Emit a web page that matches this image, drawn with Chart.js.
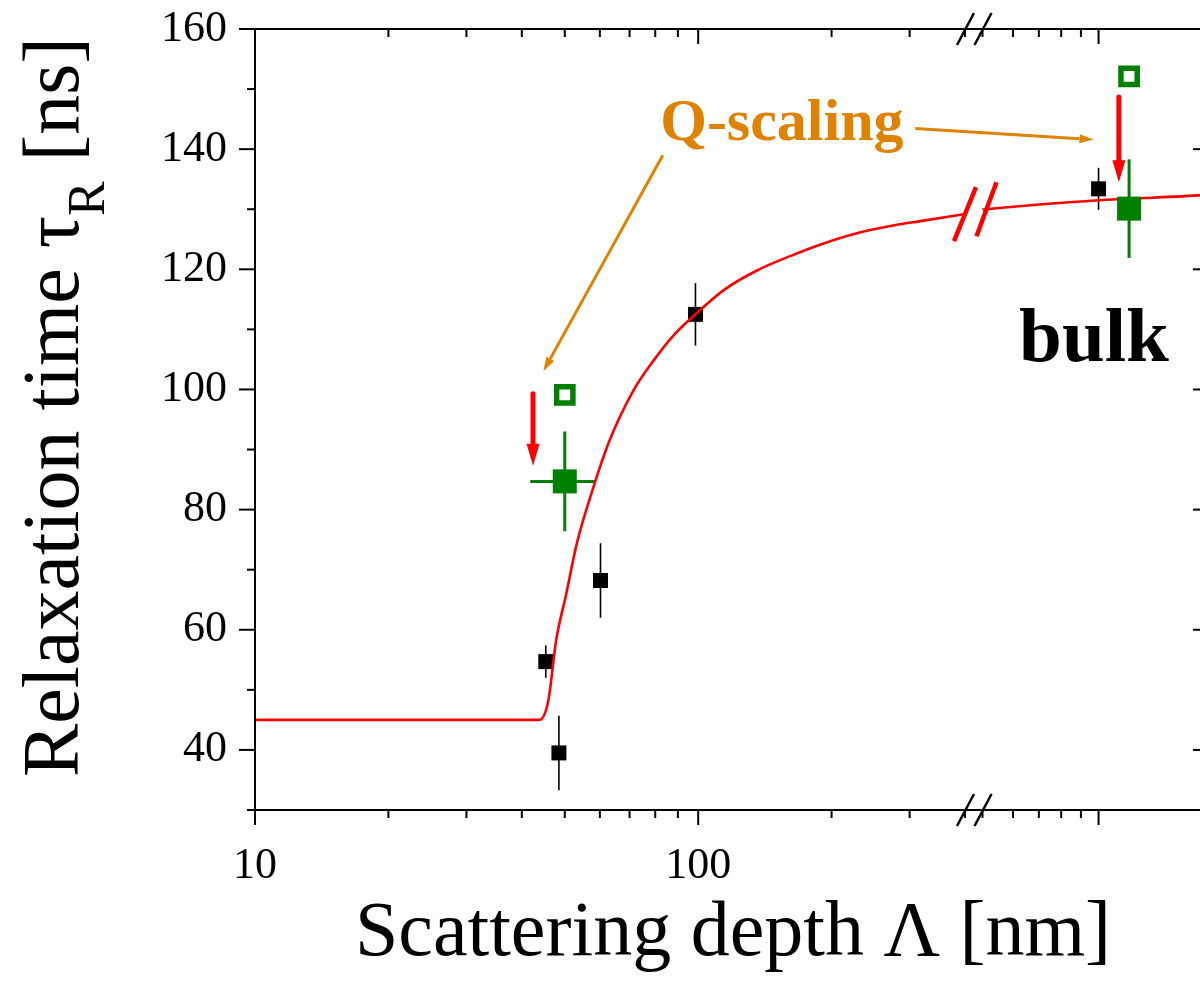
<!DOCTYPE html>
<html>
<head>
<meta charset="utf-8">
<script src="https://cdn.jsdelivr.net/npm/chart.js@4.4.0/dist/chart.umd.min.js"></script>
<style>
  html, body { margin: 0; padding: 0; overflow: hidden; background: #fff; }
  canvas { display: block; }
</style>
</head>
<body>
<canvas id="myChart" width="1210" height="983"></canvas>
<script>
// fit curve, before and after the axis break
const fitX = [10, 43.8, 45.9, 47.8, 50.4, 53.2, 58.0, 63.1, 71.4, 79.3, 88.0, 98.9, 114, 135.7, 161.3, 191.8, 228.1, 271.3, 322.6, 400];
const fitY = [45, 45, 48.2, 58.2, 66.0, 74.3, 83.7, 91.5, 99.8, 104.8, 109.0, 112.6, 116.5, 119.8, 122.2, 124.3, 126.0, 127.2, 128.1, 129.2];
const fitBulkX = [500, 676, 1000, 1810, 1934];
const fitBulkY = [129.95, 130.7, 131.5, 132.3, 132.45];

// measured points (black) with y errors
const blackX = [45.3, 48.5, 60.2, 98.6, 1000];
const blackY = [54.7, 39.5, 68.2, 112.5, 133.4];
const blackErr = [2.7, 6.2, 6.2, 5.2, 3.5];

// Q-scaled points (green filled) and unscaled ones (green open)
const greenX = [50, 1200];
const greenY = [84.7, 130.1];
const greenYErr = [8.3, 8.2];
const greenXLow = [41.8, 1200];
const greenXHigh = [58.5, 1200];
const openX = [50, 1200];
const openY = [99.1, 152.1];

// red shift arrows: x, from y, to y
const shiftX = [42.4, 1129];
const shiftFrom = [99.3, 148.7];
const shiftTo = [87.3, 134.5];

// ticks
const xTicks = [10, 20, 30, 40, 50, 60, 70, 80, 90, 100, 200, 300, 400, 500, 600, 700, 800, 900, 1000];
const xMajor = [10, 100, 1000];
const xLabeled = [10, 100];
const yTicks = [30, 40, 50, 60, 70, 80, 90, 100, 110, 120, 130, 140, 150, 160];
const yLabeled = [40, 60, 80, 100, 120, 140, 160];

const FONT = '"Liberation Serif", "Times New Roman", serif';
const ORANGE = '#de8200';
const GREEN = '#008000';

function pts(xs, ys) { return xs.map((x, i) => ({ x: x, y: ys[i] })); }

// log axis with a break (Origin style)
class BrokenLogScale extends Chart.LogarithmicScale {
    buildTicks() {
        this.min = this.options.min;
        this.max = this.options.max;
        this._startValue = this.min;
        this._endValue = this.max;
        return this.options.tickValues.map(v => ({ value: v, major: xMajor.includes(v) }));
    }
    _dec(value) {
        const b = this.options.brk;
        const lmin = Math.log10(this.min), lmax = Math.log10(this.max);
        const lf = Math.log10(b.from), lt = Math.log10(b.to);
        const lv = Math.log10(value);
        if (lv <= lf) return (lv - lmin) / (lf - lmin) * b.at;
        if (lv >= lt) return b.at + b.gap + (lv - lt) / (lmax - lt) * (1 - b.at - b.gap);
        return b.at + (lv - lf) / (lt - lf) * b.gap;
    }
    getPixelForValue(value) {
        if (value === undefined || value <= 0) return NaN;
        return this.getPixelForDecimal(this._dec(value));
    }
    getValueForPixel(pixel) {
        const b = this.options.brk;
        const d = this.getDecimalForPixel(pixel);
        const lmin = Math.log10(this.min), lmax = Math.log10(this.max);
        const lf = Math.log10(b.from), lt = Math.log10(b.to);
        if (d <= b.at) return Math.pow(10, lmin + d / b.at * (lf - lmin));
        if (d >= b.at + b.gap) return Math.pow(10, lt + (d - b.at - b.gap) / (1 - b.at - b.gap) * (lmax - lt));
        return Math.pow(10, lf + (d - b.at) / b.gap * (lt - lf));
    }
}
BrokenLogScale.id = 'brokenLog';
BrokenLogScale.defaults = Chart.LogarithmicScale.defaults;
Chart.register(BrokenLogScale);

function line(c, x1, y1, x2, y2) {
    c.beginPath(); c.moveTo(x1, y1); c.lineTo(x2, y2); c.stroke();
}
function arrow(c, x1, y1, x2, y2, len, half) {
    const a = Math.atan2(y2 - y1, x2 - x1);
    const bx = x2 - len * Math.cos(a), by = y2 - len * Math.sin(a);
    line(c, x1, y1, bx, by);
    c.beginPath();
    c.moveTo(x2, y2);
    c.lineTo(bx + half * Math.sin(a), by - half * Math.cos(a));
    c.lineTo(bx - half * Math.sin(a), by + half * Math.cos(a));
    c.closePath();
    c.fill();
}

const decor = {
    id: 'decor',
    beforeDatasetsDraw(chart) {
        const c = chart.ctx, xs = chart.scales.x, ys = chart.scales.y;
        c.save();
        c.lineCap = 'butt';
        // black error bars
        c.strokeStyle = '#000';
        c.lineWidth = 1.6;
        blackX.forEach((x, i) => {
            const px = xs.getPixelForValue(x);
            line(c, px, ys.getPixelForValue(blackY[i] - blackErr[i]), px, ys.getPixelForValue(blackY[i] + blackErr[i]));
        });
        // green error bars
        c.strokeStyle = GREEN;
        c.lineWidth = 3;
        greenX.forEach((x, i) => {
            const px = xs.getPixelForValue(x), py = ys.getPixelForValue(greenY[i]);
            line(c, px, ys.getPixelForValue(greenY[i] - greenYErr[i]), px, ys.getPixelForValue(greenY[i] + greenYErr[i]));
            if (greenXLow[i] !== greenXHigh[i]) {
                line(c, xs.getPixelForValue(greenXLow[i]), py, xs.getPixelForValue(greenXHigh[i]), py);
            }
        });
        c.restore();
    },
    afterDatasetsDraw(chart) {
        const c = chart.ctx, xs = chart.scales.x, ys = chart.scales.y, a = chart.chartArea;
        c.save();
        c.strokeStyle = '#000';
        c.fillStyle = '#000';
        c.lineWidth = 2;
        c.lineCap = 'square';
        // frame
        line(c, a.left, a.top, a.right, a.top);
        line(c, a.left, a.bottom, a.right, a.bottom);
        line(c, a.left, a.top, a.left, a.bottom);
        line(c, a.right, a.top, a.right, a.bottom);
        c.lineCap = 'butt';
        // x ticks: out at bottom, in at top
        xTicks.forEach(v => {
            const px = xs.getPixelForValue(v);
            const len = xMajor.includes(v) ? 15 : 8;
            line(c, px, a.bottom, px, a.bottom + len);
            line(c, px, a.top, px, a.top + len);
        });
        // y ticks: out at left, in at right
        yTicks.forEach(v => {
            const py = ys.getPixelForValue(v);
            const len = yLabeled.includes(v) ? 16 : 8;
            line(c, a.left - len, py, a.left, py);
            line(c, a.right - len, py, a.right, py);
        });
        // axis break marks
        c.lineWidth = 2.5;
        const b1 = xs.getPixelForValue(400), b2 = xs.getPixelForValue(500);
        [a.top, a.bottom].forEach(yy => {
            line(c, b1 - 8, yy + 16, b1 + 9, yy - 16);
            line(c, b2 - 8, yy + 16, b2 + 9, yy - 16);
        });
        // break marks on the fit curve
        c.strokeStyle = '#ff0000';
        c.lineWidth = 4.5;
        const cy1 = ys.getPixelForValue(129.2), cy2 = ys.getPixelForValue(130);
        line(c, b1 - 11, cy1 + 27, b1 + 11, cy1 - 27);
        line(c, b2 - 6, cy2 + 27, b2 + 14, cy2 - 27);

        // red shift arrows
        c.fillStyle = '#ff0000';
        c.lineWidth = 5;
        c.lineCap = 'round';
        shiftX.forEach((x, i) => {
            const px = xs.getPixelForValue(x);
            arrow(c, px, ys.getPixelForValue(shiftFrom[i]), px, ys.getPixelForValue(shiftTo[i]), 22, 6.5);
        });

        // Q-scaling annotation
        c.fillStyle = ORANGE;
        c.strokeStyle = ORANGE;
        c.lineWidth = 3;
        c.lineCap = 'butt';
        c.font = 'bold 60px ' + FONT;
        c.textAlign = 'left';
        c.textBaseline = 'alphabetic';
        c.fillText('Q-scaling', xs.getPixelForValue(82.1), ys.getPixelForValue(141.5));
        arrow(c, xs.getPixelForValue(83.2), ys.getPixelForValue(139), xs.getPixelForValue(44.75), ys.getPixelForValue(103.05), 14, 4.5);
        arrow(c, xs.getPixelForValue(309), ys.getPixelForValue(143.45), xs.getPixelForValue(970), ys.getPixelForValue(141.6), 14, 4.5);

        // bulk label
        c.fillStyle = '#000';
        c.font = 'bold 77px ' + FONT;
        c.fillText('bulk', xs.getPixelForValue(622), ys.getPixelForValue(104.8));

        // axis titles
        c.font = '78px ' + FONT;
        c.textAlign = 'center';
        c.fillText('Scattering depth \u039B [nm]', 733, 955);

        c.translate(78, 407);
        c.rotate(-Math.PI / 2);
        c.textAlign = 'left';
        const p1 = 'Relaxation time \u03C4', p2 = 'R', p3 = ' [ns]';
        const big = '80px ' + FONT, small = '52px ' + FONT;
        c.font = big;
        const w1 = c.measureText(p1).width, w3 = c.measureText(p3).width;
        c.font = small;
        const w2 = c.measureText(p2).width;
        const s = -(w1 + w2 + w3) / 2;
        c.font = big;
        c.fillText(p1, s, 0);
        c.font = small;
        c.fillText(p2, s + w1, 26);
        c.font = big;
        c.fillText(p3, s + w1 + w2, 0);
        c.restore();
    }
};

const ctx = document.getElementById('myChart').getContext('2d');
const myChart = new Chart(ctx, {
    type: 'scatter',
    data: {
        datasets: [{
            label: 'Q-scaled',
            data: pts(greenX, greenY),
            pointStyle: 'rect',
            pointRadius: 17,
            backgroundColor: GREEN,
            borderColor: GREEN,
            borderWidth: 0
        }, {
            label: 'unscaled',
            data: pts(openX, openY),
            pointStyle: 'rect',
            pointRadius: 11.5,
            backgroundColor: '#fff',
            borderColor: GREEN,
            borderWidth: 5.5
        }, {
            label: 'fit',
            data: pts(fitX, fitY),
            showLine: true,
            pointRadius: 0,
            borderColor: '#ff0000',
            borderWidth: 2.6,
            cubicInterpolationMode: 'monotone'
        }, {
            label: 'fit bulk',
            data: pts(fitBulkX, fitBulkY),
            showLine: true,
            pointRadius: 0,
            borderColor: '#ff0000',
            borderWidth: 2.6,
            cubicInterpolationMode: 'monotone'
        }, {
            label: 'data',
            data: pts(blackX, blackY),
            pointStyle: 'rect',
            pointRadius: 10.6,
            backgroundColor: '#000',
            borderColor: '#000',
            borderWidth: 0
        }]
    },
    options: {
        responsive: false,
        animation: false,
        devicePixelRatio: 1,
        clip: false,
        layout: { autoPadding: false, padding: { left: 0, top: 29, right: 1, bottom: 0 } },
        plugins: { legend: { display: false }, tooltip: { enabled: false } },
        scales: {
            x: {
                type: 'brokenLog',
                min: 10,
                max: 1934,
                brk: { from: 400, to: 500, at: 710 / 954, gap: 17.5 / 954 },
                tickValues: xTicks,
                afterFit: s => {
                    s.height = 173;
                    s.paddingLeft = 0;
                    s.paddingRight = 0;
                },
                grid: { display: false, drawTicks: false },
                border: { display: false },
                ticks: {
                    autoSkip: false,
                    maxRotation: 0,
                    padding: 30,
                    color: '#000',
                    font: { family: FONT, size: 44 },
                    callback: v => xLabeled.includes(v) ? String(v) : ''
                }
            },
            y: {
                type: 'linear',
                min: 30,
                max: 160,
                afterFit: s => {
                    s.width = 255;
                    s.paddingTop = 0;
                    s.paddingBottom = 0;
                },
                afterBuildTicks: s => { s.ticks = yTicks.map(v => ({ value: v })); },
                grid: { display: false, drawTicks: false },
                border: { display: false },
                ticks: {
                    autoSkip: false,
                    padding: 28,
                    color: '#000',
                    font: { family: FONT, size: 44 },
                    callback: v => yLabeled.includes(v) ? String(v) : ''
                }
            }
        }
    },
    plugins: [decor]
});
</script>
</body>
</html>
